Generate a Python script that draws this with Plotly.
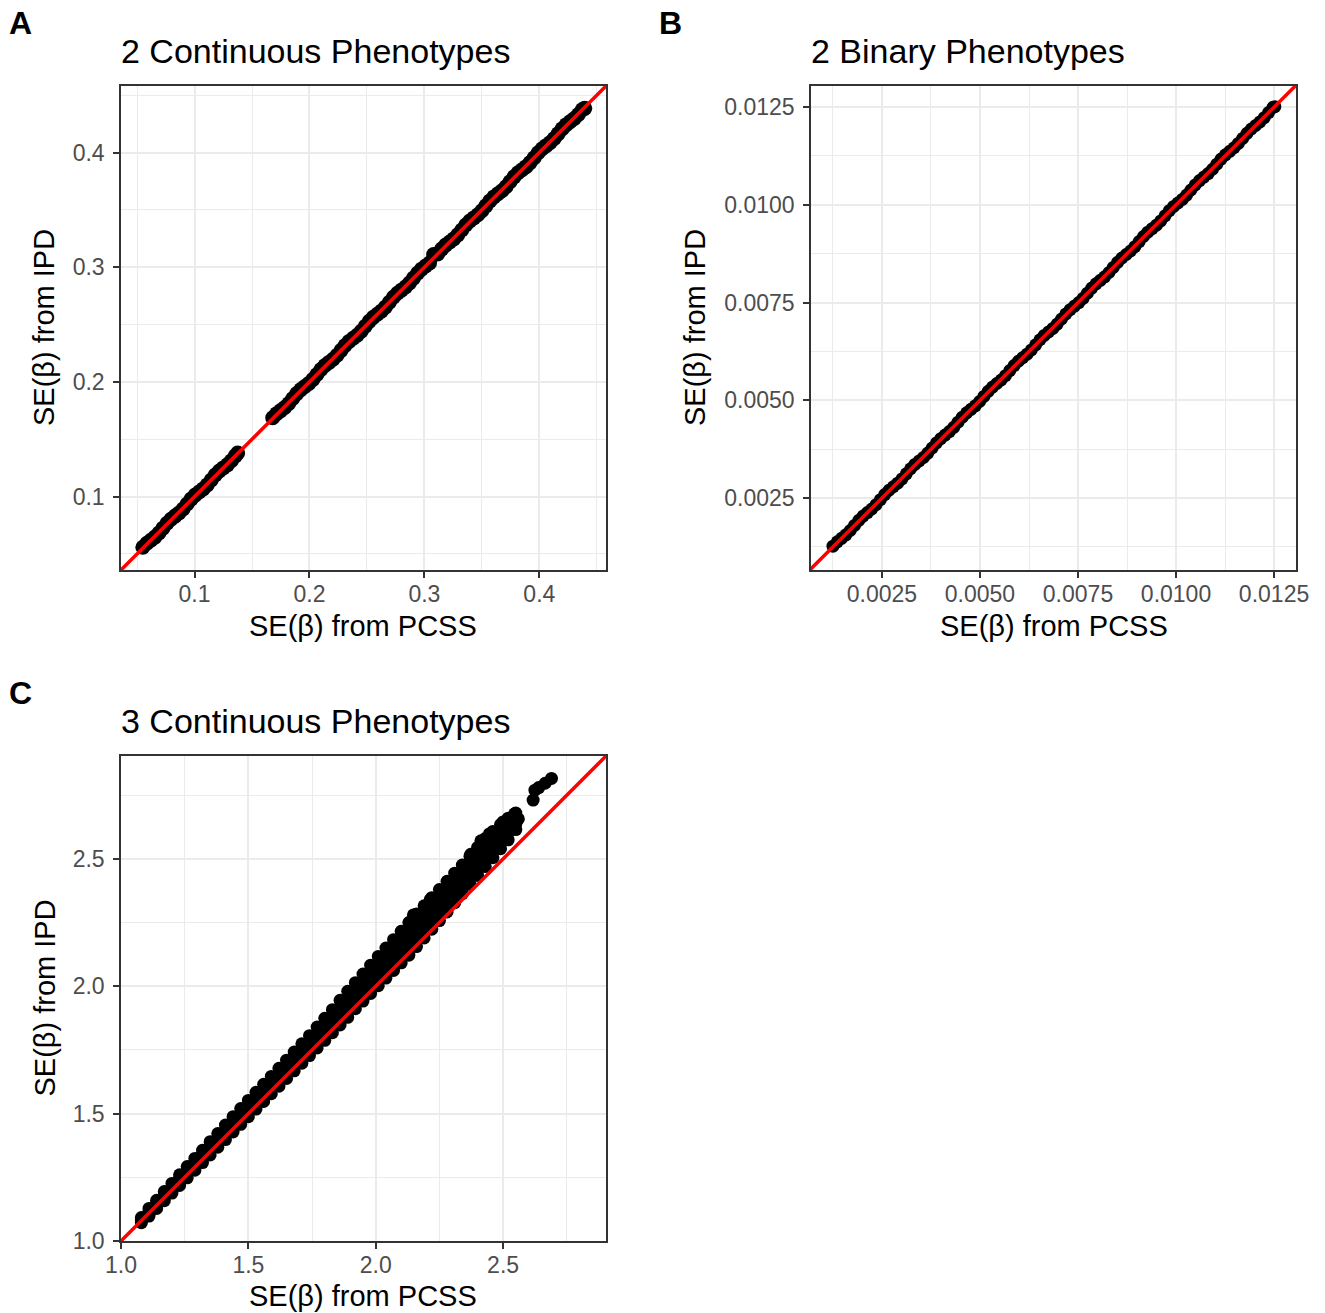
import plotly.graph_objects as go

# ---------------- data ----------------
# Panel A: 2 Continuous Phenotypes (SE from PCSS vs SE from IPD)
a_x = [0.0550, 0.0585, 0.0620, 0.0655, 0.0690, 0.0725, 0.0760, 0.0795, 0.0830, 0.0865,
       0.0900, 0.0935, 0.0970, 0.1005, 0.1040, 0.1075, 0.1110, 0.1145, 0.1180, 0.1215,
       0.1250, 0.1285, 0.1320, 0.1355, 0.1375,
       0.1680, 0.1715, 0.1750, 0.1785, 0.1820, 0.1855, 0.1890, 0.1925, 0.1960, 0.1995,
       0.2030, 0.2065, 0.2100, 0.2135, 0.2170, 0.2205, 0.2240, 0.2275, 0.2310, 0.2345,
       0.2380, 0.2415, 0.2450, 0.2485, 0.2520, 0.2555, 0.2590, 0.2625, 0.2660, 0.2695,
       0.2730, 0.2765, 0.2800, 0.2835, 0.2870, 0.2905, 0.2940, 0.2975, 0.3010, 0.3045,
       0.3080, 0.3115, 0.3150, 0.3185, 0.3220, 0.3255, 0.3290, 0.3325, 0.3360, 0.3395,
       0.3430, 0.3465, 0.3500, 0.3535, 0.3570, 0.3605, 0.3640, 0.3675, 0.3710, 0.3745,
       0.3780, 0.3815, 0.3850, 0.3885, 0.3920, 0.3955, 0.3990, 0.4025, 0.4060, 0.4095,
       0.4130, 0.4165, 0.4200, 0.4235, 0.4270, 0.4305, 0.4340, 0.4375, 0.4395]
a_y = [0.0558, 0.0593, 0.0620, 0.0647, 0.0682, 0.0725, 0.0768, 0.0803, 0.0830, 0.0857,
       0.0892, 0.0935, 0.0978, 0.1013, 0.1040, 0.1067, 0.1102, 0.1145, 0.1188, 0.1223,
       0.1250, 0.1277, 0.1312, 0.1355, 0.1380,
       0.1688, 0.1723, 0.1750, 0.1777, 0.1812, 0.1855, 0.1898, 0.1933, 0.1960, 0.1987,
       0.2022, 0.2065, 0.2108, 0.2143, 0.2170, 0.2197, 0.2232, 0.2275, 0.2318, 0.2353,
       0.2380, 0.2407, 0.2442, 0.2485, 0.2528, 0.2563, 0.2590, 0.2617, 0.2652, 0.2695,
       0.2738, 0.2773, 0.2800, 0.2827, 0.2862, 0.2905, 0.2948, 0.2983, 0.3010, 0.3037,
       0.3110, 0.3115, 0.3158, 0.3193, 0.3220, 0.3247, 0.3282, 0.3325, 0.3368, 0.3403,
       0.3430, 0.3457, 0.3492, 0.3535, 0.3578, 0.3613, 0.3640, 0.3667, 0.3702, 0.3745,
       0.3788, 0.3823, 0.3850, 0.3877, 0.3912, 0.3955, 0.3998, 0.4033, 0.4060, 0.4087,
       0.4122, 0.4165, 0.4208, 0.4243, 0.4270, 0.4297, 0.4332, 0.4375, 0.4385]

# Panel B: 2 Binary Phenotypes
b_x = [0.00125, 0.00136, 0.00147, 0.00158, 0.00169, 0.00180, 0.00191, 0.00202,
       0.00213, 0.00224, 0.00235, 0.00246, 0.00257, 0.00268, 0.00279, 0.00290,
       0.00301, 0.00312, 0.00323, 0.00334, 0.00345, 0.00356, 0.00367, 0.00378,
       0.00389, 0.00400, 0.00411, 0.00422, 0.00433, 0.00444, 0.00455, 0.00466,
       0.00477, 0.00488, 0.00499, 0.00510, 0.00521, 0.00532, 0.00543, 0.00554,
       0.00565, 0.00576, 0.00587, 0.00598, 0.00609, 0.00620, 0.00631, 0.00642,
       0.00653, 0.00664, 0.00675, 0.00686, 0.00697, 0.00708, 0.00719, 0.00730,
       0.00741, 0.00752, 0.00763, 0.00774, 0.00785, 0.00796, 0.00807, 0.00818,
       0.00829, 0.00840, 0.00851, 0.00862, 0.00873, 0.00884, 0.00895, 0.00906,
       0.00917, 0.00928, 0.00939, 0.00950, 0.00961, 0.00972, 0.00983, 0.00994,
       0.01005, 0.01016, 0.01027, 0.01038, 0.01049, 0.01060, 0.01071, 0.01082,
       0.01093, 0.01104, 0.01115, 0.01126, 0.01137, 0.01148, 0.01159, 0.01170,
       0.01181, 0.01192, 0.01203, 0.01214, 0.01225, 0.01236, 0.01247, 0.01252]
b_y = [0.00127, 0.00138, 0.00147, 0.00156, 0.00167, 0.00180, 0.00193, 0.00204,
       0.00213, 0.00222, 0.00233, 0.00246, 0.00259, 0.00270, 0.00279, 0.00288,
       0.00299, 0.00312, 0.00325, 0.00336, 0.00345, 0.00354, 0.00365, 0.00378,
       0.00391, 0.00402, 0.00411, 0.00420, 0.00431, 0.00444, 0.00457, 0.00468,
       0.00477, 0.00486, 0.00497, 0.00510, 0.00523, 0.00534, 0.00543, 0.00552,
       0.00563, 0.00576, 0.00589, 0.00600, 0.00609, 0.00618, 0.00629, 0.00642,
       0.00655, 0.00666, 0.00675, 0.00684, 0.00695, 0.00708, 0.00721, 0.00732,
       0.00741, 0.00750, 0.00761, 0.00774, 0.00787, 0.00798, 0.00807, 0.00816,
       0.00827, 0.00840, 0.00853, 0.00864, 0.00873, 0.00882, 0.00893, 0.00906,
       0.00919, 0.00930, 0.00939, 0.00948, 0.00959, 0.00972, 0.00985, 0.00996,
       0.01005, 0.01014, 0.01025, 0.01038, 0.01051, 0.01062, 0.01071, 0.01080,
       0.01091, 0.01104, 0.01117, 0.01128, 0.01137, 0.01146, 0.01157, 0.01170,
       0.01183, 0.01194, 0.01203, 0.01212, 0.01223, 0.01236, 0.01249, 0.01251]

# Panel C: 3 Continuous Phenotypes (cloud read as four bands of points)
c_x = [1.08, 1.11, 1.14, 1.17, 1.20, 1.23, 1.26, 1.29, 1.32, 1.35,
       1.38, 1.41, 1.44, 1.47, 1.50, 1.53, 1.56, 1.59, 1.62, 1.65,
       1.68, 1.71, 1.74, 1.77, 1.80, 1.83, 1.86, 1.89, 1.92, 1.95,
       1.98, 2.01, 2.04, 2.07, 2.10, 2.13, 2.16, 2.19, 2.22, 2.25,
       2.28, 2.31, 2.34, 2.37, 2.40, 2.43, 2.46, 2.49, 2.52, 2.55]
c_y_low = [1.072, 1.098, 1.128, 1.158, 1.188, 1.218, 1.248, 1.278, 1.308, 1.338,
           1.368, 1.398, 1.428, 1.458, 1.488, 1.518, 1.548, 1.578, 1.608, 1.638,
           1.668, 1.698, 1.728, 1.758, 1.788, 1.818, 1.848, 1.878, 1.912, 1.942,
           1.972, 2.002, 2.032, 2.062, 2.092, 2.122, 2.156, 2.190, 2.224, 2.258,
           2.292, 2.328, 2.364, 2.400, 2.435, 2.470, 2.505, 2.540, 2.575, 2.615]
c_y_mid1 = [1.079, 1.108, 1.139, 1.170, 1.201, 1.232, 1.263, 1.293, 1.324, 1.355,
            1.386, 1.417, 1.448, 1.479, 1.509, 1.540, 1.570, 1.601, 1.631, 1.662,
            1.693, 1.723, 1.754, 1.785, 1.817, 1.848, 1.880, 1.912, 1.946, 1.977,
            2.009, 2.040, 2.071, 2.102, 2.133, 2.165, 2.199, 2.232, 2.265, 2.299,
            2.332, 2.367, 2.401, 2.437, 2.472, 2.507, 2.539, 2.572, 2.603, 2.637]
c_y_mid2 = [1.085, 1.118, 1.149, 1.182, 1.213, 1.246, 1.277, 1.309, 1.340, 1.373,
            1.404, 1.436, 1.468, 1.499, 1.531, 1.562, 1.593, 1.623, 1.655, 1.686,
            1.717, 1.749, 1.780, 1.813, 1.845, 1.878, 1.913, 1.946, 1.980, 2.013,
            2.046, 2.079, 2.111, 2.143, 2.175, 2.207, 2.241, 2.274, 2.307, 2.339,
            2.372, 2.405, 2.439, 2.473, 2.508, 2.543, 2.574, 2.603, 2.632, 2.658]
c_y_high = [1.092, 1.128, 1.160, 1.194, 1.226, 1.260, 1.292, 1.324, 1.356, 1.390,
            1.422, 1.455, 1.488, 1.520, 1.552, 1.584, 1.615, 1.646, 1.678, 1.710,
            1.742, 1.774, 1.806, 1.840, 1.874, 1.908, 1.945, 1.980, 2.014, 2.048,
            2.083, 2.117, 2.150, 2.183, 2.216, 2.250, 2.284, 2.316, 2.348, 2.380,
            2.412, 2.444, 2.476, 2.510, 2.545, 2.580, 2.608, 2.635, 2.660, 2.680]
c_extra_x = [2.148, 2.214, 2.373, 2.413, 2.446, 2.500, 2.545, 2.560,
             2.618, 2.625, 2.640, 2.665, 2.690]
c_extra_y = [2.280, 2.340, 2.518, 2.571, 2.598, 2.645, 2.677, 2.657,
             2.731, 2.770, 2.780, 2.797, 2.816]

# axis settings
a_range = [0.036, 0.458]
b_xrange = [0.00069, 0.01306]
b_yrange = [0.00066, 0.01304]
c_range = [1.0, 2.904]

titles = ["2 Continuous Phenotypes", "2 Binary Phenotypes", "3 Continuous Phenotypes"]
panel_letters = ["A", "B", "C"]
x_title = "SE(β) from PCSS"
y_title = "SE(β) from IPD"

for lst in (c_y_low, c_y_mid1, c_y_mid2, c_y_high):
    assert len(lst) == len(c_x)
assert len(a_x) == len(a_y), (len(a_x), len(a_y))
assert len(b_x) == len(b_y), (len(b_x), len(b_y))
assert len(c_extra_x) == len(c_extra_y)

# ---------------- layout helpers ----------------
W, H = 1325, 1313
FONT = "Liberation Sans, Arial, Helvetica, sans-serif"


def PX(x):
    return x / W


def PY(y):
    return 1 - y / H


# panel boxes in window pixels: (left, right, top, bottom)
boxes = [(121, 606, 86, 570), (811, 1296, 86, 570), (121, 606, 756, 1241)]

fig = go.Figure()

red = dict(color="#FF0000", width=3.5)
fig.add_trace(go.Scatter(x=a_x, y=a_y, mode="markers",
                         marker=dict(color="black", size=15, line=dict(width=0)),
                         xaxis="x", yaxis="y", showlegend=False))
fig.add_trace(go.Scatter(x=a_range, y=a_range, mode="lines", line=red,
                         xaxis="x", yaxis="y", showlegend=False))

b_line = [min(b_xrange[0], b_yrange[0]), max(b_xrange[1], b_yrange[1])]
fig.add_trace(go.Scatter(x=b_x, y=b_y, mode="markers",
                         marker=dict(color="black", size=13, line=dict(width=0)),
                         xaxis="x2", yaxis="y2", showlegend=False))
fig.add_trace(go.Scatter(x=b_line, y=b_line, mode="lines", line=red,
                         xaxis="x2", yaxis="y2", showlegend=False))

cxs = c_x * 4 + c_extra_x
cys = c_y_low + c_y_mid1 + c_y_mid2 + c_y_high + c_extra_y
fig.add_trace(go.Scatter(x=cxs, y=cys, mode="markers",
                         marker=dict(color="black", size=13, line=dict(width=0)),
                         xaxis="x3", yaxis="y3", showlegend=False))
fig.add_trace(go.Scatter(x=c_range, y=c_range, mode="lines", line=red,
                         xaxis="x3", yaxis="y3", showlegend=False))


def axis(domain, rng, dtick, mdtick, fmt, anchor, standoff):
    return dict(
        domain=domain, range=rng, dtick=dtick, tick0=0, tickformat=fmt,
        anchor=anchor, automargin=False,
        showgrid=True, gridcolor="#EBEBEB", gridwidth=2,
        minor=dict(dtick=mdtick, tick0=0, showgrid=True, gridcolor="#EBEBEB",
                   gridwidth=1, ticks=""),
        zeroline=False, showline=True, mirror=True,
        linecolor="#333333", linewidth=1.5,
        ticks="outside", ticklen=6, tickwidth=1.5, tickcolor="#333333",
        tickfont=dict(family=FONT, size=23, color="#4D4D4D"),
        ticklabelstandoff=standoff,
        fixedrange=True,
    )


bx = [[PX(b[0]), PX(b[1])] for b in boxes]
by = [[PY(b[3]), PY(b[2])] for b in boxes]

fig.update_layout(
    width=W, height=H, autosize=False,
    margin=dict(l=0, r=0, t=0, b=0, pad=0, autoexpand=False),
    paper_bgcolor="white", plot_bgcolor="white",
    font=dict(family=FONT, color="black"),
    xaxis=axis(bx[0], a_range, 0.1, 0.05, ".1f", "y", -3),
    yaxis=axis(by[0], a_range, 0.1, 0.05, ".1f", "x", 4),
    xaxis2=axis(bx[1], b_xrange, 0.0025, 0.00125, ".4f", "y2", -3),
    yaxis2=axis(by[1], b_yrange, 0.0025, 0.00125, ".4f", "x2", 4),
    xaxis3=axis(bx[2], c_range, 0.5, 0.25, ".1f", "y3", -3),
    yaxis3=axis(by[2], c_range, 0.5, 0.25, ".1f", "x3", 4),
)

ann = []
title_y = [51, 51, 721]
letter_pos = [(7, 23), (657, 23), (7, 693)]
xt_y = [626, 626, 1296]
yt_x = [44, 695, 44]
for i, b in enumerate(boxes):
    left, right, top, bottom = b
    ann.append(dict(text=titles[i], x=PX(left - 2), y=PY(title_y[i]), xref="paper", yref="paper",
                    xanchor="left", yanchor="middle", showarrow=False,
                    font=dict(family=FONT, size=34, color="black")))
    ann.append(dict(text="<b>%s</b>" % panel_letters[i], x=PX(letter_pos[i][0]), y=PY(letter_pos[i][1]),
                    xref="paper", yref="paper", xanchor="left", yanchor="middle",
                    showarrow=False, font=dict(family=FONT, size=32, color="black")))
    ann.append(dict(text=x_title, x=PX((left + right) / 2), y=PY(xt_y[i]), xref="paper", yref="paper",
                    xanchor="center", yanchor="middle", showarrow=False,
                    font=dict(family=FONT, size=29, color="black")))
    ann.append(dict(text=y_title, x=PX(yt_x[i]), y=PY((top + bottom) / 2), xref="paper", yref="paper",
                    xanchor="center", yanchor="middle", textangle=-90, showarrow=False,
                    font=dict(family=FONT, size=29, color="black")))
fig.update_layout(annotations=ann)

# remove the browser's default body margin so the figure fills the window
fig.write_html("out.html",
               config={"displayModeBar": False},
               post_script="document.body.style.margin='0';document.body.style.overflow='hidden';")
